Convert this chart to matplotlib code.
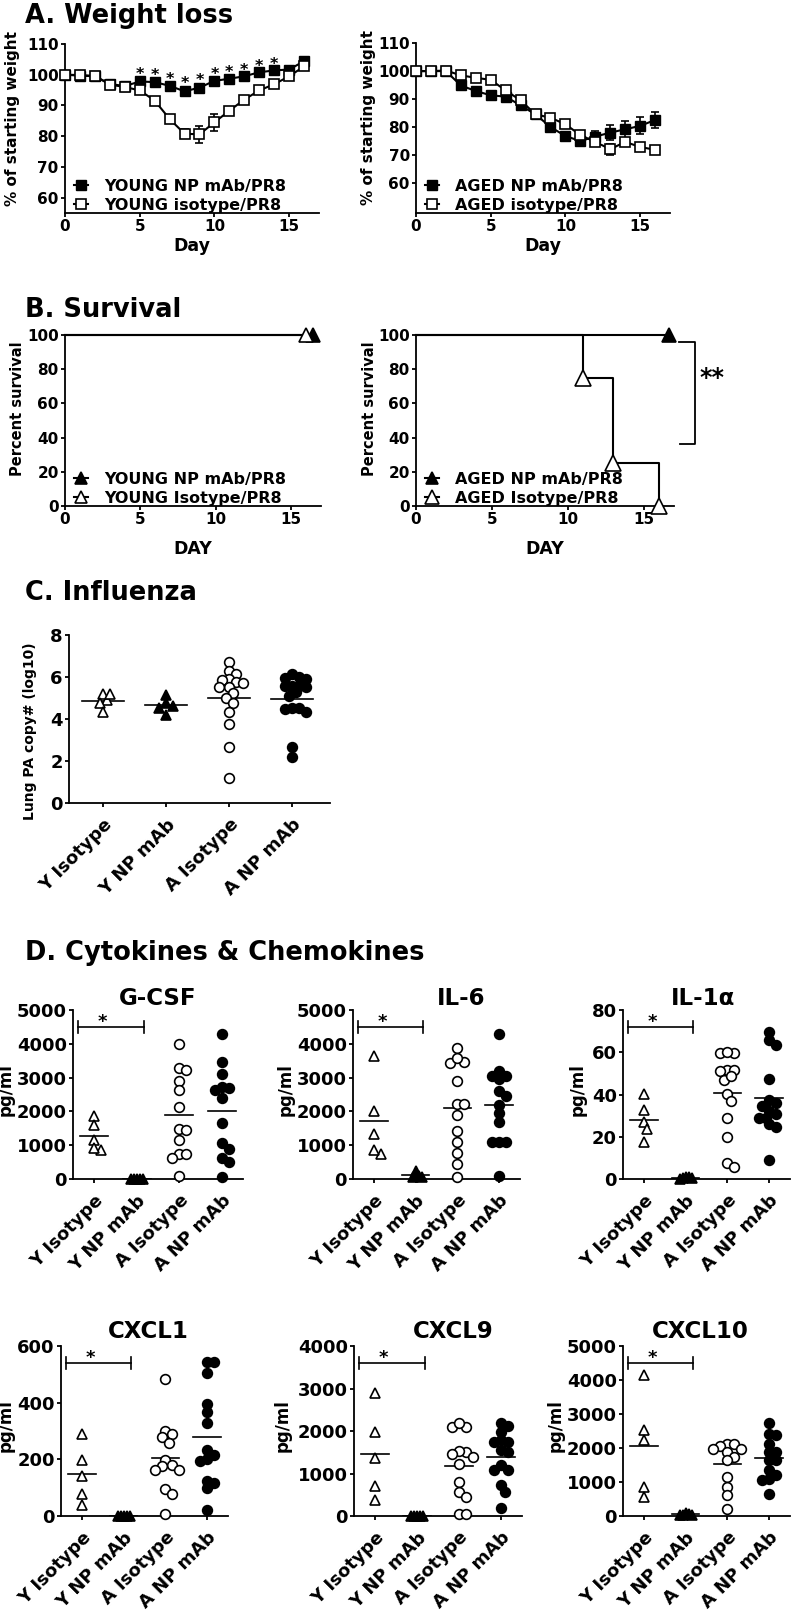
import numpy as np
import matplotlib
matplotlib.use("Agg")
import matplotlib.pyplot as plt

W, H = 792, 1619

plt.rcParams['font.family'] = ['DejaVu Sans']
plt.rcParams['font.weight'] = 'bold'
plt.rcParams['axes.labelweight'] = 'bold'

# ---- A. weight loss (% of starting weight, mean +/- SEM) ----
days = list(range(17))
young_np = [100, 99.7, 99.5, 97.0, 96.3, 97.8, 97.6, 96.4, 94.6, 95.8, 98.0, 98.7, 99.5, 100.8, 101.4, 101.7, 104.4]
young_np_err = [0.3, 0.4, 0.4, 0.6, 0.6, 0.7, 0.7, 0.7, 1.3, 1.0, 0.7, 0.6, 0.5, 0.5, 0.5, 0.6, 0.6]
young_iso = [100, 99.9, 99.6, 96.8, 96.0, 94.9, 91.6, 85.6, 80.8, 80.6, 84.5, 88.3, 91.9, 94.9, 96.9, 99.5, 102.7]
young_iso_err = [0.3, 0.4, 0.4, 0.6, 0.6, 0.7, 0.8, 0.9, 1.4, 2.7, 2.8, 1.0, 0.8, 0.7, 0.6, 0.6, 0.6]
young_sig_days = [5, 6, 7, 8, 9, 10, 11, 12, 13, 14]

aged_np = [100, 100, 100, 94.9, 92.9, 91.4, 90.9, 87.8, 84.6, 80.1, 76.9, 75.1, 76.7, 78.1, 79.3, 80.5, 82.6]
aged_np_err = [0.3, 0.3, 0.4, 0.6, 0.7, 0.7, 0.8, 0.9, 1.0, 1.0, 1.2, 1.5, 2.0, 2.6, 3.0, 3.0, 3.0]
aged_iso = [100, 100, 100.2, 98.5, 97.6, 96.9, 93.1, 89.6, 84.6, 83.4, 81.1, 77.2, 74.8, 72.2, 74.8, 73.0, 72.0]
aged_iso_err = [0.3, 0.3, 0.4, 0.5, 0.6, 0.6, 0.7, 0.8, 0.9, 1.0, 1.2, 1.5, 1.6, 2.0, 1.0, 0.8, 0.7]

# ---- B. survival (step curves) ----
young_np_surv_days, young_np_surv = [0, 16.5], [100, 100]
young_iso_surv_days, young_iso_surv = [0, 16], [100, 100]
aged_np_surv_days, aged_np_surv = [0, 16.7], [100, 100]
aged_iso_surv_days, aged_iso_surv = [0, 11, 13, 16], [100, 75, 25, 0]

# ---- C. influenza lung PA copy# (log10) ----
groups = ['Y Isotype', 'Y NP mAb', 'A Isotype', 'A NP mAb']
flu_y_iso = [4.9, 5.2, 5.2, 4.75, 4.35]
flu_y_np = [4.62, 5.13, 4.19, 4.5, 4.78]
flu_a_iso = [6.73, 6.3, 6.15, 5.89, 5.86, 5.75, 5.7, 5.54, 5.54, 5.22, 4.98, 4.75, 4.32, 3.76, 2.68, 1.2]
flu_a_np = [6.14, 6.0, 5.94, 5.9, 5.59, 5.54, 5.59, 5.59, 5.1, 5.3, 4.5, 4.46, 4.35, 4.5, 2.68, 2.2]

# ---- D. cytokines & chemokines (pg/ml) ----
gcsf = [[1850, 1585, 1160, 866, 915],
        [0, 0, 0, 0, 0],
        [3996, 3297, 3228, 2913, 2638, 2126, 1476, 1457, 1142, 748, 748, 620, 98],
        [4281, 3474, 3100, 2716, 2687, 2638, 2392, 1654, 1063, 886, 620, 492, 59]]
il6 = [[3649, 2002, 1331, 740, 858],
       [250, 80, 50, 60, 100],
       [3876, 3471, 3422, 3580, 2909, 2219, 2219, 1903, 1430, 1085, 759, 444, 69],
       [4300, 3050, 3050, 3200, 2950, 2600, 2450, 2200, 1950, 1700, 1100, 1100, 1100, 100]]
il1a = [[40.2, 32.6, 26.8, 23.6, 17.3],
        [1.0, 0.5, 0.3, 0.8, 0.2],
        [59.8, 59.5, 60.3, 51.8, 51.2, 51.8, 46.8, 48.8, 40.2, 37.0, 29.1, 20.0, 7.4, 5.5],
        [69.8, 65.7, 63.5, 47.2, 37.3, 36.2, 34.6, 32.0, 30.7, 29.1, 29.1, 26.0, 24.4, 9.0]]
cxcl1 = [[289, 199, 140, 77, 38],
         [0, 0, 0, 0, 0],
         [483, 301, 279, 289, 258, 199, 179, 176, 164, 162, 97, 79, 8],
         [545, 545, 506, 397, 368, 327, 232, 215, 200, 193, 125, 115, 100, 22]]
cxcl9 = [[2884, 1980, 1375, 699, 369],
         [0, 0, 0, 0, 0],
         [2098, 2083, 2192, 1509, 1525, 1450, 1391, 1234, 802, 566, 448, 39, 39],
         [2177, 2114, 1980, 1784, 1745, 1745, 1548, 1509, 1194, 1092, 1092, 723, 566, 196]]
cxcl10 = [[4145, 2544, 2250, 855, 560],
          [60, 30, 80, 20, 40],
          [2132, 2112, 2053, 1984, 1886, 1739, 1984, 1640, 1149, 855, 609, 216],
          [2721, 2407, 2377, 2132, 1886, 1886, 1640, 1660, 1346, 1198, 1100, 1051, 658]]
cyto_names = ['G-CSF', 'IL-6', 'IL-1α', 'CXCL1', 'CXCL9', 'CXCL10']
cyto_data = [gcsf, il6, il1a, cxcl1, cxcl9, cxcl10]
cyto_ymax = [5000, 5000, 80, 600, 4000, 5000]
cyto_ystep = [1000, 1000, 20, 200, 1000, 1000]

markers = ['^', '^', 'o', 'o']
faces = ['white', 'black', 'white', 'black']

fig = plt.figure(figsize=(W / 100, H / 100), dpi=100)


def add_box(x0, x1, y0, y1):
    return fig.add_axes([x0 / W, 1 - y1 / H, (x1 - x0) / W, (y1 - y0) / H])


def style(ax, fs=11.5):
    for s in ['top', 'right']:
        ax.spines[s].set_visible(False)
    for s in ['left', 'bottom']:
        ax.spines[s].set_linewidth(1.3)
    ax.tick_params(width=1.3, length=3, direction='out', pad=1.5, labelsize=fs)


def swarm(vals, px_y, d):
    # simple beeswarm: offsets in pixels, no two markers closer than d
    ys = np.asarray(vals, float) * px_y
    xs = np.zeros(len(ys))
    cands = [0.0]
    for j in range(1, 40):
        cands += [j * d / 2, -j * d / 2]
    placed = []
    for i in np.argsort(-ys, kind='stable'):
        for c in cands:
            if all((c - xs[p]) ** 2 + (ys[i] - ys[p]) ** 2 >= d * d for p in placed):
                xs[i] = c
                break
        placed.append(i)
    return xs


def dot_plot(ax, data, px_y, px_cat, gaps, ms=7):
    for i, vals in enumerate(data):
        vals = np.asarray(vals, float)
        off = swarm(vals, px_y, gaps[i]) / px_cat
        ax.plot(i + off, vals, ls='none', marker=markers[i], ms=ms, mfc=faces[i],
                mec='black', mew=1.2, clip_on=False, zorder=3)
        m = vals.mean()
        ax.plot([i - 0.33, i + 0.33], [m, m], color='black', lw=1.2, zorder=2)
    ax.set_xticks(range(len(groups)))
    ax.set_xticklabels(groups, rotation=45, ha='right', va='top', rotation_mode='anchor')


def heading(text, baseline):
    fig.text(25 / W, 1 - baseline / H, text, fontsize=18.5, fontweight='bold', va='baseline')


heading('A. Weight loss', 23)
heading('B. Survival', 317)
heading('C. Influenza', 600)
heading('D. Cytokines & Chemokines', 960)

leg_kw = dict(loc='lower left', frameon=False, fontsize=11.5, handlelength=0.9,
              handletextpad=1.0, labelspacing=0.25, borderpad=0, borderaxespad=0)

# ---- panel A ----
for box, ylo, npv, npe, isv, ise, lab, lx in [
        ((65, 319, 44, 213), 55, young_np, young_np_err, young_iso, young_iso_err, 'YOUNG', -0.178),
        ((416, 670, 43, 213), 49.5, aged_np, aged_np_err, aged_iso, aged_iso_err, 'AGED', -0.158)]:
    ax = add_box(*box)
    style(ax, fs=11)
    ax.errorbar(days, npv, yerr=npe, fmt='none', ecolor='black', elinewidth=1.2, capsize=3, capthick=1.2, zorder=1.5)
    ax.errorbar(days, isv, yerr=ise, fmt='none', ecolor='black', elinewidth=1.2, capsize=3, capthick=1.2, zorder=1.5)
    ax.plot(days, npv, color='black', lw=1.5, marker='s', ms=7, mfc='black', mec='black',
            label=f'{lab} NP mAb/PR8', zorder=2, clip_on=False)
    ax.plot(days, isv, color='black', lw=1.5, marker='s', ms=7, mfc='white', mec='black', mew=1.2,
            label=f'{lab} isotype/PR8', zorder=3, clip_on=False)
    ax.set_xlim(0, 17)
    ax.set_ylim(ylo, 110)
    ax.set_xticks([0, 5, 10, 15])
    ax.set_yticks([60, 70, 80, 90, 100, 110])
    ax.set_xlabel('Day', fontsize=12.5)
    ax.set_ylabel('% of starting weight', fontsize=11)
    ax.yaxis.set_label_coords(lx, 0.56)
    ax.xaxis.set_label_coords(0.5, -0.14)
    ax.legend(bbox_to_anchor=(0.035, 0.0), **leg_kw)
    if lab == 'YOUNG':
        for d in young_sig_days:
            ax.text(d, npv[d] + npe[d] * 0.5 + 0.3, '*', ha='center', va='baseline', fontsize=11.5)

# ---- panel B ----
for box, curves, lab, lx in [
        ((65, 321, 335, 506), [(young_np_surv_days, young_np_surv, 'black', 9.5),
                               (young_iso_surv_days, young_iso_surv, 'white', 9.5)], 'YOUNG', -0.156),
        ((416, 674, 335, 506), [(aged_np_surv_days, aged_np_surv, 'black', 9.5),
                                (aged_iso_surv_days, aged_iso_surv, 'white', 11.5)], 'AGED', -0.152)]:
    ax = add_box(*box)
    style(ax, fs=11)
    names = [f'{lab} NP mAb/PR8', f'{lab} Isotype/PR8']
    for (dx, sv, fc, ms), nm in zip(curves, names):
        ax.step(dx, sv, where='post', color='black', lw=1.5, zorder=2, clip_on=False)
        ax.plot(dx[1:], sv[1:], ls='none', marker='^', ms=ms, mfc=fc, mec='black', mew=1.2,
                zorder=3, clip_on=False)
        ax.plot([], [], color='black', lw=1.5, marker='^', ms=ms * 0.85, mfc=fc, mec='black', mew=1.2, label=nm)
    ax.set_xlim(0, 17)
    ax.set_ylim(0, 100)
    ax.set_xticks([0, 5, 10, 15])
    ax.set_yticks([0, 20, 40, 60, 80, 100])
    ax.set_xlabel('DAY', fontsize=12.5)
    ax.set_ylabel('Percent survival', fontsize=10.5)
    ax.yaxis.set_label_coords(lx, 0.57)
    ax.xaxis.set_label_coords(0.5, -0.2)
    ax.legend(bbox_to_anchor=(0.035, 0.0), **leg_kw)
    if lab == 'AGED':
        ax.plot([17.3, 18.4, 18.4, 17.4], [96, 96, 36, 36], color='black', lw=1.3, clip_on=False)
        ax.text(19.5, 71, '**', ha='center', va='baseline', fontsize=17)

# ---- panel C ----
ax = add_box(69, 330, 635, 803)
style(ax, fs=13)
ax.set_xlim(-0.54, 3.6)
ax.set_ylim(0, 8)
ax.set_yticks([0, 2, 4, 6, 8])
dot_plot(ax, [flu_y_iso, flu_y_np, flu_a_iso, flu_a_np], 168 / 8, 63, gaps=[7, 7, 7, 7], ms=7)
ax.tick_params(axis='x', pad=6)
ax.set_ylabel('Lung PA copy# (log10)', fontsize=10)
ax.yaxis.set_label_coords(-0.123, 0.43)

# ---- panel D ----
d_boxes = [(73, 243, 1010, 1179), (353, 520, 1010, 1179), (623, 790, 1010, 1179),
           (61, 228, 1346, 1516), (354, 522, 1346, 1516), (623, 790, 1346, 1516)]
d_title_x = [0.5, 0.65, 0.48, 0.52, 0.59, 0.46]
d_title_pad = [0, 0, 0, 6, 6, 6]
d_label_x = [-0.341, -0.347, -0.216, -0.275, -0.369, -0.347]

for box, name, data, ymax, ystep, tx, tp, lx in zip(d_boxes, cyto_names, cyto_data, cyto_ymax,
                                                     cyto_ystep, d_title_x, d_title_pad, d_label_x):
    ax = add_box(*box)
    style(ax, fs=13)
    ax.set_xlim(-0.5, 3.5)
    ax.set_ylim(0, ymax)
    ax.set_yticks(np.arange(0, ymax + ystep / 2, ystep))
    dot_plot(ax, data, (box[3] - box[2]) / ymax, (box[1] - box[0]) / 4.0, gaps=[7, 3, 7, 7], ms=7)
    ax.tick_params(axis='x', pad=6)
    ax.set_ylabel('pg/ml', fontsize=12)
    ax.yaxis.set_label_coords(lx, 0.53)
    ax.set_title(name, fontsize=16.5, fontweight='bold', x=tx, pad=tp)
    # significance bracket Y Isotype vs Y NP mAb
    yb = 0.9 * ymax
    ax.plot([-0.38, 1.18], [yb, yb], color='black', lw=1.2, clip_on=False)
    for xe in (-0.38, 1.18):
        ax.plot([xe, xe], [yb - 0.035 * ymax, yb + 0.035 * ymax], color='black', lw=1.2, clip_on=False)
    ax.text(0.2, yb, '*', ha='center', va='baseline', fontsize=13)

fig.savefig('out.png', dpi=100)
